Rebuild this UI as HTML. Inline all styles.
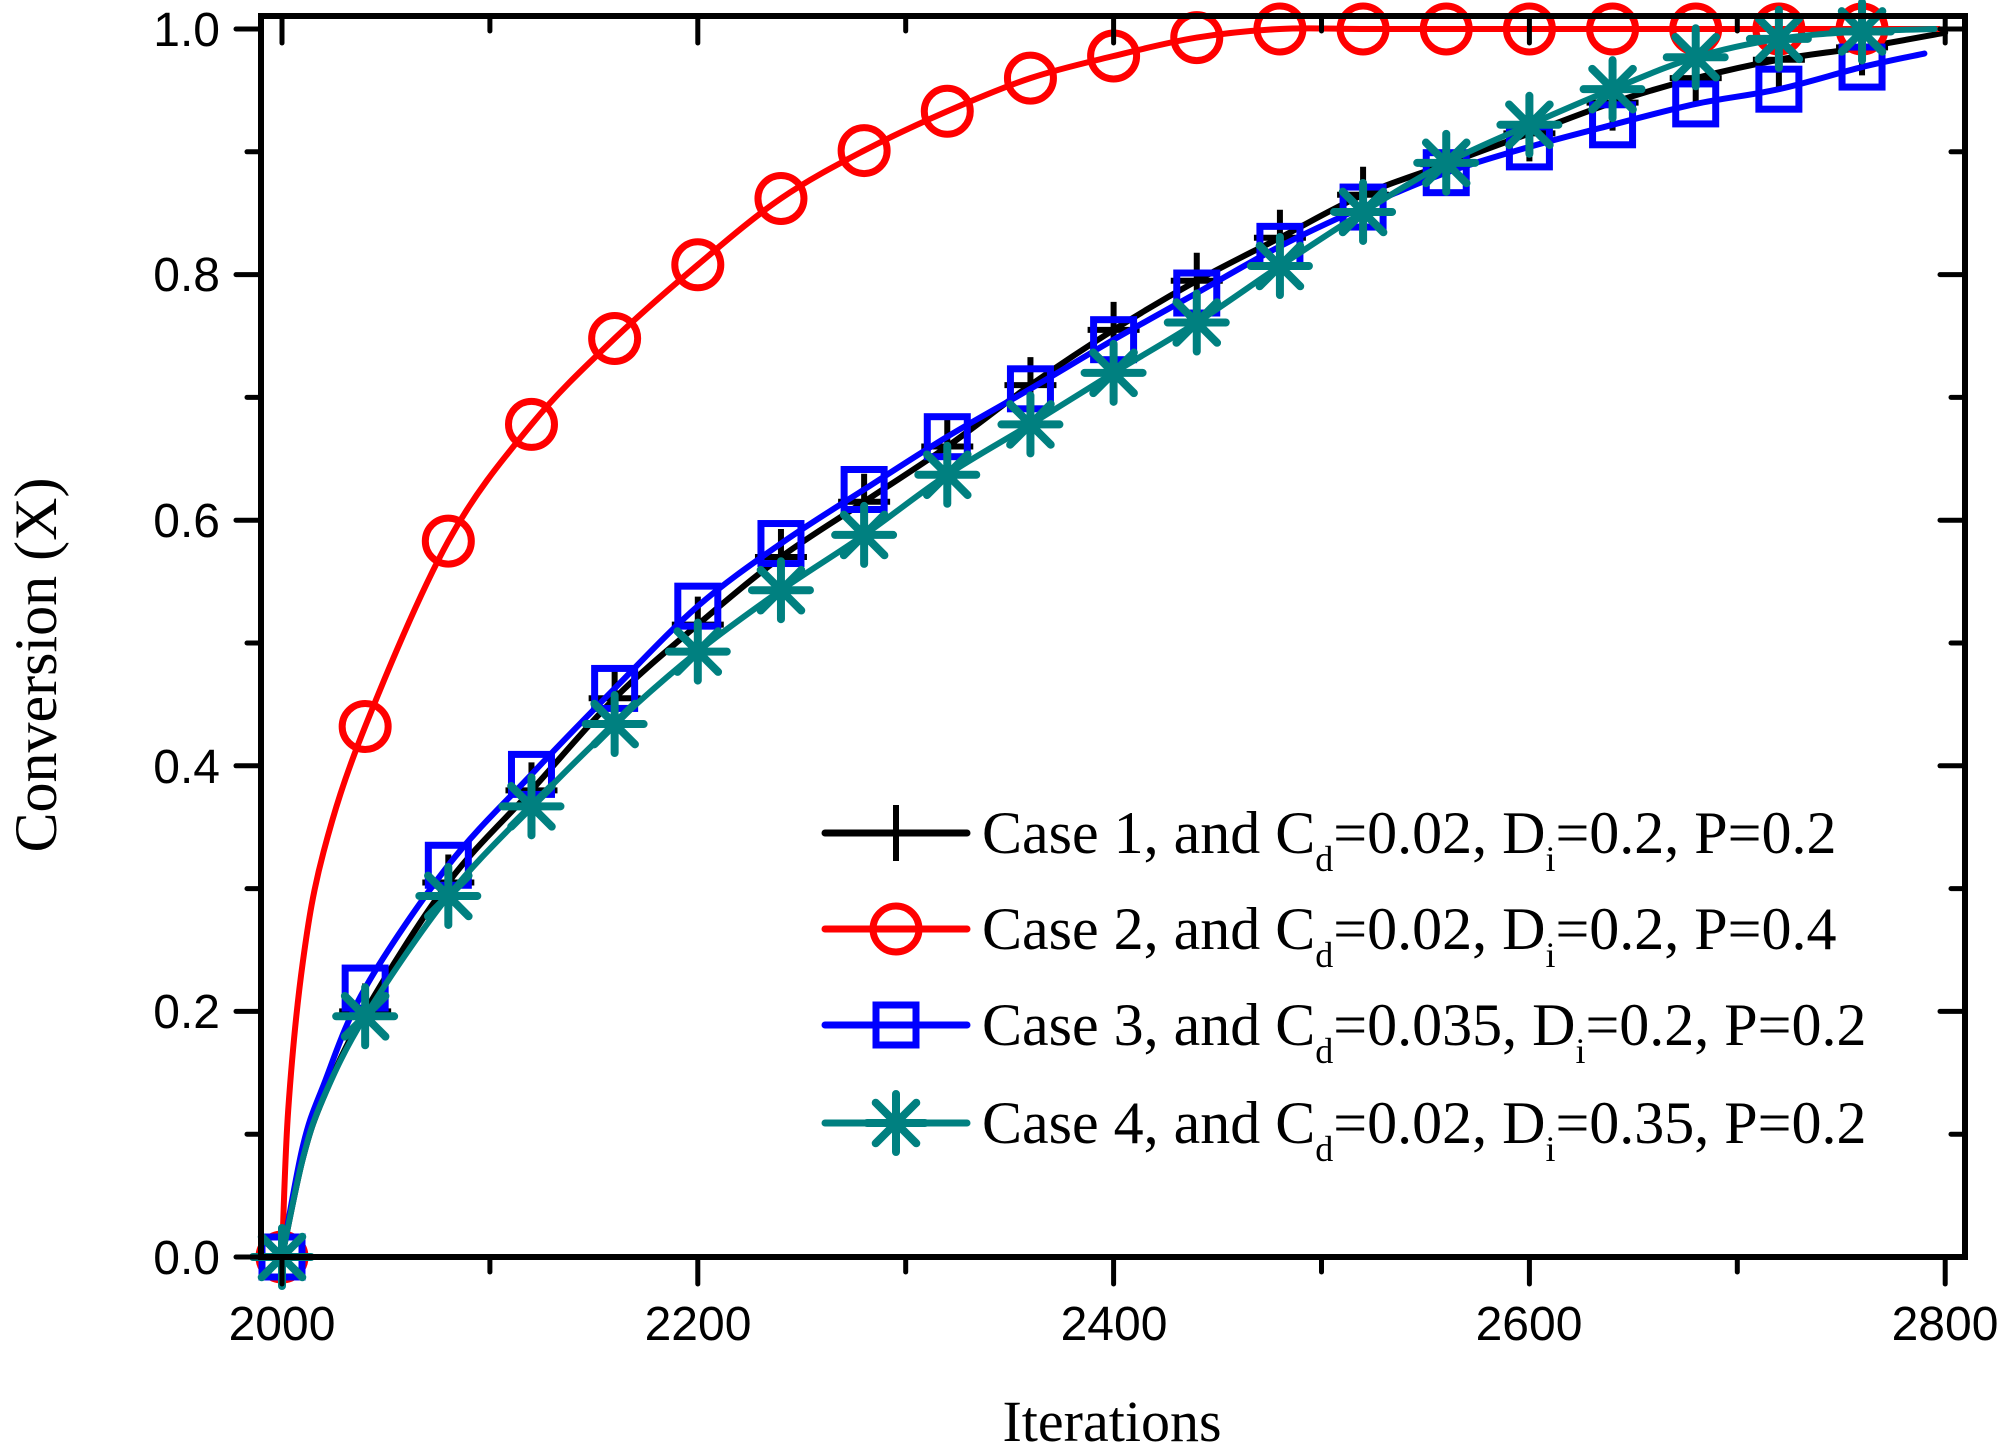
<!DOCTYPE html>
<html><head><meta charset="utf-8"><style>
html,body{margin:0;padding:0;background:#fff;}
svg{display:block;}
.tk{font-family:"Liberation Sans",sans-serif;font-size:48px;fill:#000;}
.sf{font-family:"Liberation Serif",serif;fill:#000;}
</style></head><body>
<svg id="s" width="2004" height="1451" viewBox="0 0 2004 1451" xmlns="http://www.w3.org/2000/svg">
<rect width="2004" height="1451" fill="#fff"/>
<g id="data"></g>
<g id="axes" stroke="#000" stroke-width="5" stroke-linecap="round" fill="none"></g>
<rect x="261" y="16" width="1704" height="1241" fill="none" stroke="#000" stroke-width="6"/>
<g class="tk" text-anchor="end">
<text x="220" y="46">1.0</text>
<text x="220" y="291">0.8</text>
<text x="220" y="537">0.6</text>
<text x="220" y="783">0.4</text>
<text x="220" y="1028">0.2</text>
<text x="220" y="1274">0.0</text>
</g>
<g class="tk" text-anchor="middle">
<text x="282" y="1340">2000</text>
<text x="698" y="1340">2200</text>
<text x="1114" y="1340">2400</text>
<text x="1529" y="1340">2600</text>
<text x="1945" y="1340">2800</text>
</g>
<text class="sf" x="1112" y="1441" font-size="58" text-anchor="middle">Iterations</text>
<text class="sf" x="0" y="0" font-size="60" text-anchor="middle" transform="translate(56,665) rotate(-90)">Conversion (X)</text>
<g id="leg"></g>
<g class="sf" font-size="60">
<text x="982" y="853">Case 1, and C<tspan font-size="36" dy="18">d</tspan><tspan dy="-18">=0.02, D</tspan><tspan font-size="36" dy="18">i</tspan><tspan dy="-18">=0.2, P=0.2</tspan></text>
<text x="982" y="949">Case 2, and C<tspan font-size="36" dy="18">d</tspan><tspan dy="-18">=0.02, D</tspan><tspan font-size="36" dy="18">i</tspan><tspan dy="-18">=0.2, P=0.4</tspan></text>
<text x="982" y="1045">Case 3, and C<tspan font-size="36" dy="18">d</tspan><tspan dy="-18">=0.035, D</tspan><tspan font-size="36" dy="18">i</tspan><tspan dy="-18">=0.2, P=0.2</tspan></text>
<text x="982" y="1143">Case 4, and C<tspan font-size="36" dy="18">d</tspan><tspan dy="-18">=0.02, D</tspan><tspan font-size="36" dy="18">i</tspan><tspan dy="-18">=0.35, P=0.2</tspan></text>
</g>
</svg>
<script>
(function(){
var NS="http://www.w3.org/2000/svg";
function X(t){return 282+(t-2000)*2.079;}
function Y(v){return 1257-v*1228;}
function el(p,n,a){var e=document.createElementNS(NS,n);for(var k in a)e.setAttribute(k,a[k]);p.appendChild(e);return e;}
var ax=document.getElementById('axes');
for(var i=0;i<=10;i++){var y=Y(i/10);var maj=i%2==0;
 el(ax,'line',{x1:261-(maj?25:14),y1:y,x2:261,y2:y});
 el(ax,'line',{x1:1965,y1:y,x2:1965-(maj?25:14),y2:y});}
for(var t=2000;t<=2800;t+=100){var x=X(t);var maj=(t%200==0);
 el(ax,'line',{x1:x,y1:1257,x2:x,y2:1257+(maj?27:15)});
 el(ax,'line',{x1:x,y1:16,x2:x,y2:16+(maj?27:15)});}
function path(pts){var d='M'+X(pts[0][0])+','+Y(pts[0][1]);
 for(var i=0;i<pts.length-1;i++){var p0=pts[Math.max(0,i-1)],p1=pts[i],p2=pts[i+1],p3=pts[Math.min(pts.length-1,i+2)];
  var a=[X(p0[0]),Y(p0[1])],b=[X(p1[0]),Y(p1[1])],c=[X(p2[0]),Y(p2[1])],e=[X(p3[0]),Y(p3[1])];
  d+=' C'+(b[0]+(c[0]-a[0])/6)+','+(b[1]+(c[1]-a[1])/6)+' '+(c[0]-(e[0]-b[0])/6)+','+(c[1]-(e[1]-b[1])/6)+' '+c[0]+','+c[1];}
 return d;}
var T=[];for(var t=2000;t<=2760;t+=40)T.push(t);
var red=[0,0.432,0.583,0.678,0.748,0.808,0.862,0.901,0.933,0.96,0.978,0.993,1,1,1,1,1,1,1,1];
var blk=[0,0.2,0.305,0.38,0.455,0.515,0.57,0.615,0.66,0.71,0.755,0.795,0.83,0.865,0.89,0.915,0.94,0.96,0.975,0.985];
var blu=[0,0.219,0.319,0.393,0.463,0.53,0.581,0.625,0.668,0.707,0.747,0.785,0.823,0.855,0.883,0.904,0.922,0.939,0.951,0.969];
var tea=[0,0.196,0.294,0.367,0.434,0.493,0.543,0.588,0.637,0.678,0.72,0.761,0.807,0.851,0.891,0.922,0.951,0.977,0.992,0.998];
function pts(v,extra,end){var p=[[2000,0]].concat(extra);for(var i=1;i<v.length;i++)p.push([T[i],v[i]]);if(end)p.push(end);return p;}
var g=document.getElementById('data');
var S=[
 {c:'#000',p:pts(blk,[[2010,0.08],[2020,0.13]],[2800,0.997]),v:blk,m:'plus'},
 {c:'#f00',p:pts(red,[[2003,0.12],[2010,0.24],[2020,0.33]],[2797,1]),v:red,m:'circ'},
 {c:'#00f',p:pts(blu,[[2010,0.09],[2020,0.14]],[2790,0.98]),v:blu,m:'sq'},
 {c:'#008080',p:pts(tea,[[2010,0.08],[2020,0.13]],[2795,1]),v:tea,m:'ast'}];
function marker(p,m,c,x,y){var a={stroke:c,'stroke-width':7,fill:'none'};
 if(m=='plus'){a['stroke-width']=6;el(p,'path',Object.assign({d:'M'+(x-26)+','+y+'h52M'+x+','+(y-28)+'v56'},a));}
 else if(m=='circ'){el(p,'circle',Object.assign({cx:x,cy:y,r:23},a));}
 else if(m=='sq'){el(p,'rect',Object.assign({x:x-20,y:y-20,width:40,height:40},a));}
 else {a['stroke-width']=8;a['stroke-linecap']='round';var r=29,s=r*0.7;
  el(p,'path',Object.assign({d:'M'+(x-r)+','+y+'h'+2*r+'M'+x+','+(y-r)+'v'+2*r+'M'+(x-s)+','+(y-s)+'l'+2*s+','+2*s+'M'+(x-s)+','+(y+s)+'l'+2*s+','+(-2*s)},a));}}
S.forEach(function(s){
 el(g,'path',{d:path(s.p),stroke:s.c,'stroke-width':6,fill:'none','stroke-linecap':'round','stroke-linejoin':'round'});
 for(var i=0;i<T.length;i++)marker(g,s.m,s.c,X(T[i]),Y(s.v[i]));});
var L=document.getElementById('leg');var ly=[833,929,1025,1123];
S.forEach(function(s,i){el(L,'line',{x1:825,y1:ly[i],x2:967,y2:ly[i],stroke:s.c,'stroke-width':7,'stroke-linecap':'round'});marker(L,s.m,s.c,896,ly[i]);});
})();
</script>
</body></html>
